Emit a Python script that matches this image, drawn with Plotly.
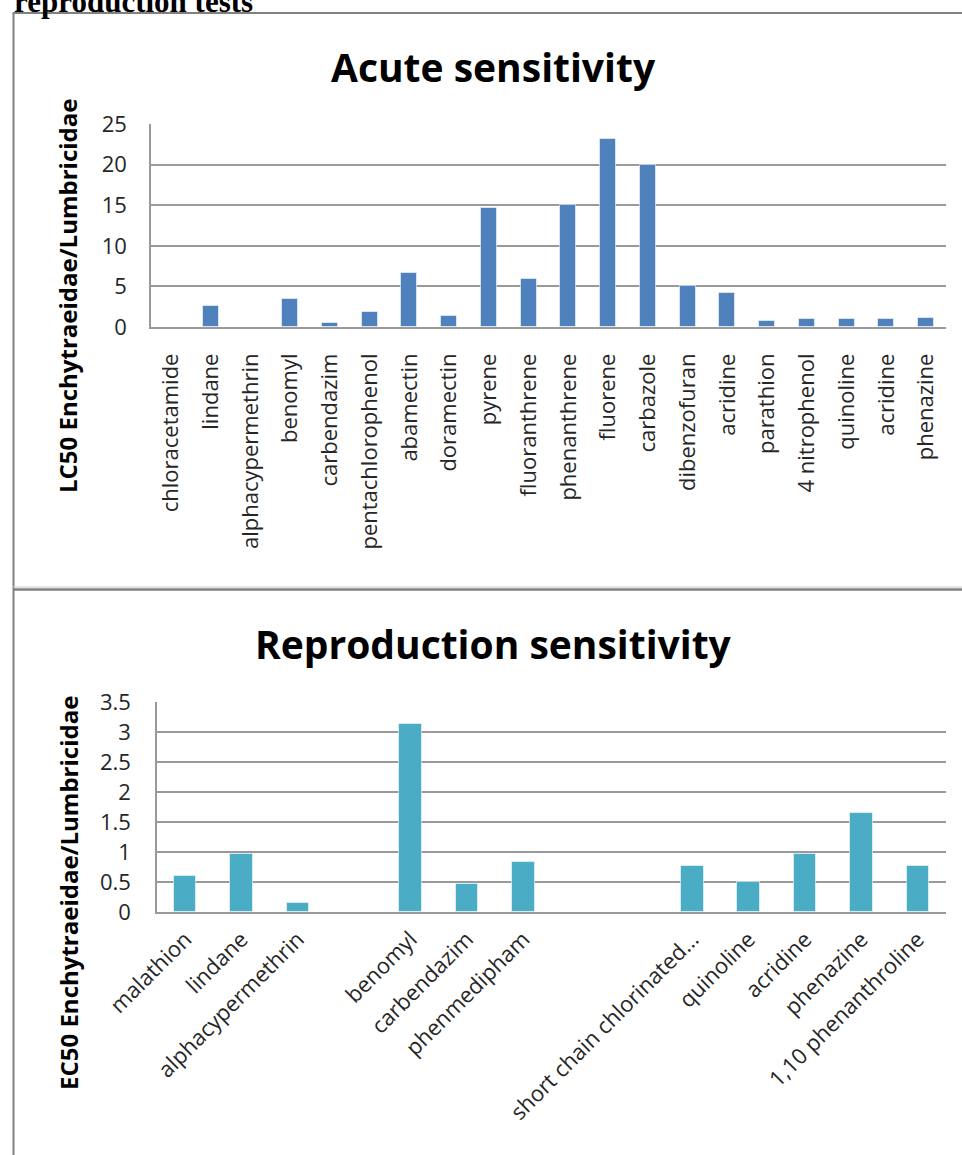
import plotly.graph_objects as go

# Acute test: LC50 ratio Enchytraeidae / Lumbricidae per compound
acute_compounds = [
    "chloracetamide", "lindane", "alphacypermethrin", "benomyl", "carbendazim",
    "pentachlorophenol", "abamectin", "doramectin", "pyrene", "fluoranthrene",
    "phenanthrene", "fluorene", "carbazole", "dibenzofuran", "acridine",
    "parathion", "4 nitrophenol", "quinoline", "acridine", "phenazine",
]
acute_lc50_ratio = [
    None, 2.6, None, 3.5, 0.55, 1.8, 6.7, 1.3, 14.7, 5.9,
    15.0, 23.1, 19.9, 5.1, 4.2, 0.8, 1.0, 1.0, 1.0, 1.15,
]
acute_ticks = [0, 5, 10, 15, 20, 25]

# Reproduction test: EC50 ratio Enchytraeidae / Lumbricidae per compound
repro_compounds = [
    "malathion", "lindane", "alphacypermethrin", "", "benomyl", "carbendazim",
    "phenmedipham", "", "", "short chain chlorinated...", "quinoline",
    "acridine", "phenazine", "1,10 phenanthroline",
]
repro_ec50_ratio = [
    0.6, 0.97, 0.15, None, 3.13, 0.47, 0.84, None, None, 0.77, 0.5,
    0.97, 1.65, 0.77,
]
repro_ticks = [0, 0.5, 1, 1.5, 2, 2.5, 3, 3.5]
repro_tick_text = ["0", "0.5", "1", "1.5", "2", "2.5", "3", "3.5"]

W, H = 962, 1155
FONT = "Open Sans"
TXT = "#262626"
GRID = "#9a9a9a"


def px_x(p):
    return p / W


def px_y(p):
    return 1 - p / H


acute_x = list(range(len(acute_compounds)))
repro_x = list(range(len(repro_compounds)))

fig = go.Figure()
fig.add_trace(go.Bar(
    x=acute_x, y=acute_lc50_ratio, width=0.4,
    marker=dict(color="#4F81BD", line=dict(color="rgba(255,255,255,0.55)", width=1)),
    xaxis="x", yaxis="y", showlegend=False,
))
fig.add_trace(go.Bar(
    x=repro_x, y=repro_ec50_ratio, width=0.4,
    marker=dict(color="#4BACC6", line=dict(color="rgba(255,255,255,0.55)", width=1)),
    xaxis="x2", yaxis="y2", showlegend=False,
))

tick_font = dict(family=FONT, size=22, color=TXT)

fig.update_layout(
    width=W, height=H,
    margin=dict(l=0, r=0, t=0, b=0, autoexpand=False),
    paper_bgcolor="white", plot_bgcolor="white",
    bargap=0,
    xaxis=dict(
        domain=[px_x(151), px_x(946)], anchor="y", automargin=False,
        range=[-0.5, len(acute_compounds) - 0.5],
        tickmode="array", tickvals=acute_x, ticktext=acute_compounds,
        tickangle=-90, tickfont=tick_font, ticks="", ticklabelstandoff=16,
        showgrid=False, zeroline=False,
        showline=True, linecolor=GRID, linewidth=1.5,
    ),
    yaxis=dict(
        domain=[px_y(327), px_y(124)], anchor="x", automargin=False,
        range=[0, 25], tickmode="array", tickvals=acute_ticks,
        tickfont=tick_font, ticks="", ticklabelstandoff=18,
        showgrid=True, gridcolor=GRID, gridwidth=1.5, zeroline=False,
        showline=True, linecolor=GRID, linewidth=1.5,
    ),
    xaxis2=dict(
        domain=[px_x(157), px_x(946)], anchor="y2", automargin=False,
        range=[-0.5, len(repro_compounds) - 0.5],
        tickmode="array", tickvals=repro_x, ticktext=repro_compounds,
        tickangle=-45, tickfont=tick_font, ticks="", ticklabelstandoff=4,
        showgrid=False, zeroline=False,
        showline=True, linecolor=GRID, linewidth=1.5,
    ),
    yaxis2=dict(
        domain=[px_y(912), px_y(702)], anchor="x2", automargin=False,
        range=[0, 3.5], tickmode="array", tickvals=repro_ticks,
        ticktext=repro_tick_text,
        tickfont=tick_font, ticks="", ticklabelstandoff=20,
        showgrid=True, gridcolor=GRID, gridwidth=1.5, zeroline=False,
        showline=True, linecolor=GRID, linewidth=1.5,
    ),
)

# Chart titles, axis titles and the section heading above the first frame
annotations = [
    dict(text="<b>Acute sensitivity</b>", x=px_x(493), y=px_y(66),
         font=dict(family=FONT, size=39, color="#000000")),
    dict(text="<b>Reproduction sensitivity</b>", x=px_x(493), y=px_y(643),
         font=dict(family=FONT, size=39, color="#000000")),
    dict(text="<b>LC50 Enchytraeidae/Lumbricidae</b>", x=px_x(68), y=px_y(296),
         textangle=-90, font=dict(family=FONT, size=24, color="#000000")),
    dict(text="<b>EC50 Enchytraeidae/Lumbricidae</b>", x=px_x(68), y=px_y(893),
         textangle=-90, font=dict(family=FONT, size=24, color="#000000")),
    dict(text="<b>reproduction tests</b>", x=px_x(12), y=px_y(2),
         xanchor="left", yanchor="middle",
         font=dict(family="Liberation Serif", size=31, color="#000000")),
]
for a in annotations:
    a.setdefault("xanchor", "center")
    a.setdefault("yanchor", "middle")
    fig.add_annotation(xref="paper", yref="paper", showarrow=False, **a)

# Frame lines around the two chart panels
frame = "#808080"
shapes = [
    dict(x0=px_x(13), x1=1, y0=px_y(13), y1=px_y(13), line=dict(color=frame, width=2)),
    dict(x0=px_x(13.5), x1=px_x(13.5), y0=px_y(12), y1=0, line=dict(color=frame, width=2)),
    dict(x0=px_x(13), x1=1, y0=px_y(587), y1=px_y(587), line=dict(color="#c8c8c8", width=1)),
    dict(x0=px_x(13), x1=1, y0=px_y(589.5), y1=px_y(589.5), line=dict(color=frame, width=2.5)),
]
for s in shapes:
    fig.add_shape(type="line", xref="paper", yref="paper", **s)

fig.write_html("out.html")
